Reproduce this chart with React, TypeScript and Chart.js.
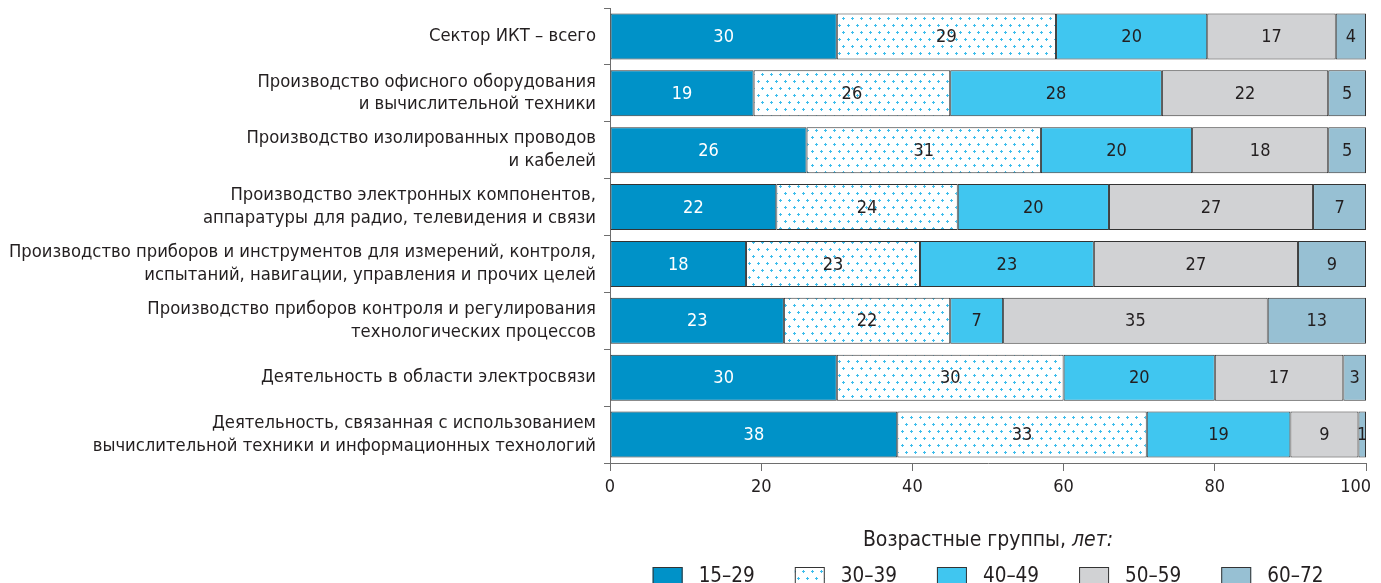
import React, { useEffect, useRef } from "react";
import { Chart, registerables } from "chart.js";

Chart.register(...registerables);

const categories: (string | string[])[] = [
  "Сектор ИКТ – всего",
  ["Производство офисного оборудования", "и вычислительной техники"],
  ["Производство изолированных проводов", "и кабелей"],
  ["Производство электронных компонентов,", "аппаратуры для радио, телевидения и связи"],
  ["Производство приборов и инструментов для измерений, контроля,", "испытаний, навигации, управления и прочих целей"],
  ["Производство приборов контроля и регулирования", "технологических процессов"],
  "Деятельность в области электросвязи",
  ["Деятельность, связанная с использованием", "вычислительной техники и информационных технологий"],
];

const seriesLabels = ["15–29", "30–39", "40–49", "50–59", "60–72"];

const age15to29 = [30, 19, 26, 22, 18, 23, 30, 38];
const age30to39 = [29, 26, 31, 24, 23, 22, 30, 33];
const age40to49 = [20, 28, 20, 20, 23, 7, 20, 19];
const age50to59 = [17, 22, 18, 27, 27, 35, 17, 9];
const age60to72 = [4, 5, 5, 7, 9, 13, 3, 1];

const xTicks = [0, 20, 40, 60, 80, 100];

const legendTitleMain = "Возрастные группы, ";
const legendTitleItalic = "лет:";

const FONT = "'Liberation Sans Narrow', 'DejaVu Sans Condensed', 'Arial Narrow', sans-serif";

function makeDotPattern(): CanvasPattern | string {
  const c = document.createElement("canvas");
  c.width = 18;
  c.height = 14;
  const g = c.getContext("2d");
  if (!g) return "#ffffff";
  g.fillStyle = "#ffffff";
  g.fillRect(0, 0, 18, 14);
  g.fillStyle = "#3dbdec";
  const pts = [
    [3, 3],
    [12, 3],
    [7, 10],
    [16, 10],
  ];
  for (const [px, py] of pts) {
    g.fillRect(px - 1, py, 3, 1);
    g.fillRect(px, py - 1, 1, 3);
  }
  const p = g.createPattern(c, "repeat");
  return p || "#ffffff";
}

const valueLabelsPlugin = {
  id: "valueLabels",
  afterDatasetsDraw(chart: any) {
    const ctx = chart.ctx;
    ctx.save();
    ctx.font = `18px ${FONT}`;
    ctx.textAlign = "center";
    ctx.textBaseline = "middle";
    chart.data.datasets.forEach((ds: any, i: number) => {
      const meta = chart.getDatasetMeta(i);
      meta.data.forEach((bar: any, j: number) => {
        const { x, y, base } = bar.getProps(["x", "y", "base"], true);
        ctx.fillStyle = i === 0 ? "#ffffff" : "#231f20";
        ctx.fillText(String(ds.data[j]), (x + base) / 2, y + 1);
      });
    });
    ctx.restore();
  },
};

const customLegendPlugin = {
  id: "customLegend",
  afterDraw(chart: any) {
    const ctx = chart.ctx;
    const area = chart.chartArea;
    const cx = (area.left + area.right) / 2;
    ctx.save();
    ctx.textBaseline = "middle";
    ctx.fillStyle = "#231f20";
    const fMain = `21px ${FONT}`;
    const fItal = `italic 21px ${FONT}`;
    ctx.font = fMain;
    const w1 = ctx.measureText(legendTitleMain).width;
    ctx.font = fItal;
    const w2 = ctx.measureText(legendTitleItalic).width;
    const ty = area.bottom + 78;
    const tx = cx - (w1 + w2) / 2;
    ctx.textAlign = "left";
    ctx.font = fMain;
    ctx.fillText(legendTitleMain, tx, ty);
    ctx.font = fItal;
    ctx.fillText(legendTitleItalic, tx + w1, ty);

    const boxW = 30;
    const boxH = 18;
    const gapText = 16;
    const gapItem = 40;
    ctx.font = `20.5px ${FONT}`;
    const items = chart.data.datasets.map((ds: any) => ({
      label: ds.label,
      fill: ds.backgroundColor,
      border: ds.borderColor,
      w: ctx.measureText(ds.label).width,
    }));
    const total =
      items.reduce((s: number, it: any) => s + boxW + gapText + it.w, 0) + gapItem * (items.length - 1);
    let x = cx - total / 2;
    const iy = area.bottom + 113;
    items.forEach((it: any) => {
      ctx.fillStyle = it.fill;
      ctx.fillRect(x, iy - boxH / 2, boxW, boxH);
      ctx.strokeStyle = it.border;
      ctx.lineWidth = 1;
      ctx.strokeRect(x + 0.5, iy - boxH / 2 + 0.5, boxW - 1, boxH - 1);
      ctx.fillStyle = "#231f20";
      ctx.fillText(it.label, x + boxW + gapText, iy + 1);
      x += boxW + gapText + it.w + gapItem;
    });
    ctx.restore();
  },
};

export default function App() {
  const canvasRef = useRef<HTMLCanvasElement | null>(null);

  useEffect(() => {
    document.documentElement.style.overflow = "hidden";
    const canvas = canvasRef.current;
    if (!canvas) return;
    const pattern = makeDotPattern();
    const colors = ["#0092c8", pattern, "#40c6f0", "#d1d2d4", "#97c0d3"];
    const values = [age15to29, age30to39, age40to49, age50to59, age60to72];
    const lastTick = xTicks[xTicks.length - 1];

    const chart = new Chart(canvas, {
      type: "bar",
      data: {
        labels: categories,
        datasets: values.map((v, i) => ({
          label: seriesLabels[i],
          data: v,
          backgroundColor: colors[i] as any,
          borderColor: "#333333",
          borderWidth: 1,
          borderSkipped: false,
          barPercentage: 0.81,
          categoryPercentage: 1,
        })),
      },
      options: {
        indexAxis: "y",
        animation: false,
        responsive: true,
        maintainAspectRatio: false,
        layout: { padding: { top: 0, right: 0, bottom: 97, left: 0 } },
        plugins: {
          legend: { display: false },
          tooltip: { enabled: false },
          title: { display: false },
        },
        scales: {
          x: {
            stacked: true,
            min: 0,
            max: 100,
            afterBuildTicks: (scale: any) => {
              scale.ticks = xTicks.map((v) => ({ value: v }));
            },
            afterFit: (scale: any) => {
              scale.height = 40;
              scale.paddingRight = 22;
            },
            ticks: {
              color: "#231f20",
              font: { family: FONT, size: 18 },
              padding: 6,
              callback: (value: any) =>
                Number(value) === lastTick ? `${value}\u2007\u2007` : String(value),
            },
            grid: {
              drawOnChartArea: false,
              drawTicks: true,
              tickLength: 8,
              color: "#6e6e6e",
            },
            border: { color: "#6e6e6e", width: 1 },
          },
          y: {
            stacked: true,
            afterFit: (scale: any) => {
              scale.width = 602;
              scale.paddingTop = 0;
              scale.paddingBottom = 0;
            },
            ticks: {
              color: "#231f20",
              font: { family: FONT, size: 18.3, lineHeight: 1.25 },
              padding: 8,
              autoSkip: false,
            },
            grid: {
              offset: true,
              drawOnChartArea: false,
              drawTicks: true,
              tickLength: 6,
              color: "#6e6e6e",
            },
            border: { color: "#6e6e6e", width: 1 },
          },
        },
      },
      plugins: [valueLabelsPlugin, customLegendPlugin],
    });
    return () => chart.destroy();
  }, []);

  return (
    <div style={{ position: "relative", width: "1380px", height: "592px" }}>
      <canvas ref={canvasRef} />
    </div>
  );
}
